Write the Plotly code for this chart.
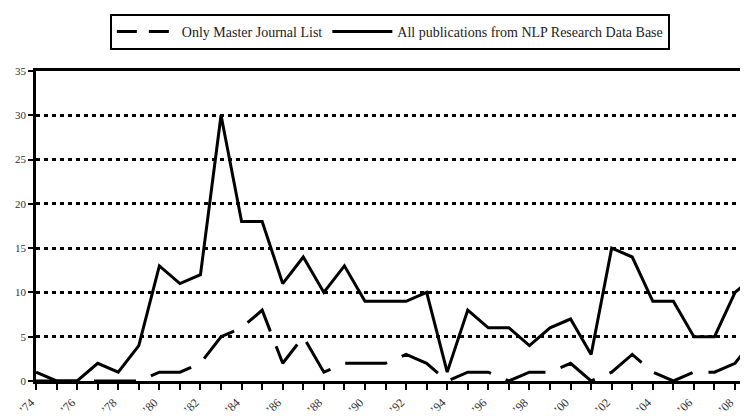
import plotly.graph_objects as go

years = list(range(1974, 2010))
all_pubs = [1, 0, 0, 2, 1, 4, 13, 11, 12, 30, 18, 18, 11, 14, 10, 13, 9, 9, 9, 10,
            1, 8, 6, 6, 4, 6, 7, 3, 15, 14, 9, 9, 5, 5, 10, 12]
master_list = [0, 0, 0, 0, 0, 0, 1, 1, 2, 5, 6, 8, 2, 5, 1, 2, 2, 2, 3, 2,
               0, 1, 1, 0, 1, 1, 2, 0, 1, 3, 1, 0, 1, 1, 2, 5]
tick_labels = ["\u2019%02d" % (y % 100) if y % 2 == 0 else "" for y in years]

SERIF = "Liberation Serif, Times New Roman, serif"
NAME1 = "Only Master Journal List"
NAME2 = "All publications from NLP Research Data Base"

fig = go.Figure()
fig.add_trace(go.Scatter(x=years, y=master_list, mode="lines", name=NAME1,
                         showlegend=False, legendgroup="m",
                         line=dict(color="black", width=3, dash="42px,16px")))
# legend entry with a shorter dash pattern so the symbol shows dash-gap-dash
fig.add_trace(go.Scatter(x=[None], y=[None], mode="lines", name=NAME1,
                         legendgroup="m", hoverinfo="skip",
                         line=dict(color="black", width=3, dash="20px,12px")))
fig.add_trace(go.Scatter(x=years, y=all_pubs, mode="lines", name=NAME2,
                         line=dict(color="black", width=3)))

# page body has an 8px default margin; figure is sized to fill the rest of the window
fig.update_layout(
    width=740, height=408,
    margin=dict(l=28, r=0, t=63, b=35, autoexpand=False),
    paper_bgcolor="white", plot_bgcolor="white",
    showlegend=True,
    legend=dict(orientation="h", x=0.497, xanchor="center",
                y=1 - 6 / 408, yanchor="top", yref="container",
                bordercolor="black", borderwidth=2,
                font=dict(family=SERIF, size=14, color="#222"),
                itemwidth=60, traceorder="normal", bgcolor="white"),
    xaxis=dict(range=[1974, 2008.63], tickvals=years, ticktext=tick_labels,
               tickangle=-45, ticks="outside", ticklen=6, tickwidth=2, tickcolor="black",
               showline=True, linecolor="black", linewidth=2.5, mirror=True,
               showgrid=False, zeroline=False, automargin=False,
               ticklabelshift=-5, ticklabelstandoff=1,
               tickfont=dict(size=12, family=SERIF, color="#333")),
    yaxis=dict(range=[0, 35], dtick=5, ticks="outside", ticklen=5, tickwidth=2,
               tickcolor="black", showline=True, linecolor="black", linewidth=2.5,
               showgrid=True, gridcolor="black", gridwidth=2.5, griddash="4px,4px",
               zeroline=False, automargin=False,
               tickfont=dict(size=11, family=SERIF, color="#333")),
)
fig.write_html("out.html")
